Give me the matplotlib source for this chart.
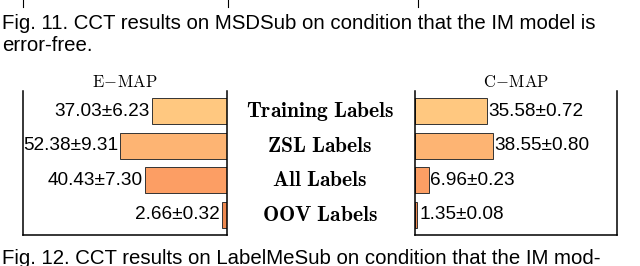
import matplotlib.pyplot as plt
from matplotlib.lines import Line2D

plt.rcParams['mathtext.fontset'] = 'cm'

categories = ['Training Labels', 'ZSL Labels', 'All Labels', 'OOV Labels']
emap_values = [37.03, 52.38, 40.43, 2.66]
emap_std = [6.23, 9.31, 7.30, 0.32]
cmap_values = [35.58, 38.55, 6.96, 1.35]
cmap_std = [0.72, 0.80, 0.23, 0.08]

colors = ['#FFC880', '#FDB473', '#FC9E64', '#EE8950']
sans = ['Liberation Sans', 'DejaVu Sans']


def drawSide(ax, values, stds, side):
    pos = list(range(len(values)))
    ax.barh(pos, values, height=0.75, color=colors, edgecolor='#333333', linewidth=0.7)
    for y, v, s in zip(pos, values, stds):
        txt = f'{v:.2f}±{s:.2f}'
        ha = 'right' if side == 'left' else 'left'
        ax.text(v + 0.8, y, txt, ha=ha, va='center', fontsize=13.7, family=sans)
    ax.set_xlim(0, 100)
    ax.set_ylim(3.58, -0.58)
    ax.set_xticks([])
    ax.set_yticks([])
    ax.spines['top'].set_visible(False)
    for sp in ['left', 'right', 'bottom']:
        ax.spines[sp].set_color('black')
        ax.spines[sp].set_linewidth(1.1)


def main():
    fig = plt.figure(figsize=(6.4, 2.66), dpi=100)
    ax_l = fig.add_axes([0.036, 0.1165, 0.319, 0.541])
    ax_r = fig.add_axes([0.648, 0.1165, 0.316, 0.541])

    drawSide(ax_l, emap_values, emap_std, 'left')
    ax_l.invert_xaxis()
    drawSide(ax_r, cmap_values, cmap_std, 'right')

    ax_l.set_title(r'$\mathrm{E\!-\!MAP}$', fontsize=12, pad=2)
    ax_r.set_title(r'$\mathrm{C\!-\!MAP}$', fontsize=12, pad=2)

    # category names between the two panels
    for i, name in enumerate(categories):
        y = ax_l.transData.transform((0, i))[1]
        yf = fig.transFigure.inverted().transform((0, y))[1]
        label = r'$\mathbf{' + name.replace(' ', r'\ ') + '}$'
        fig.text(0.5, yf, label, ha='center', va='center', fontsize=15.5)

    # captions of the surrounding page
    fig.text(0.003, 0.912, 'Fig. 11. CCT results on MSDSub on condition that the IM model is',
             ha='left', va='center', fontsize=14.7, family=sans)
    fig.text(0.003, 0.828, 'error-free.', ha='left', va='center', fontsize=14.7, family=sans)
    fig.text(0.003, 0.03, 'Fig. 12. CCT results on LabelMeSub on condition that the IM mod-',
             ha='left', va='center', fontsize=14.7, family=sans)

    # fragments of the table above
    for xf in [0.036, 0.356, 0.653]:
        fig.add_artist(Line2D([xf, xf], [1.0, 0.975], color='black', linewidth=0.8))

    fig.savefig('out.png', dpi=100)


if __name__ == '__main__':
    main()
